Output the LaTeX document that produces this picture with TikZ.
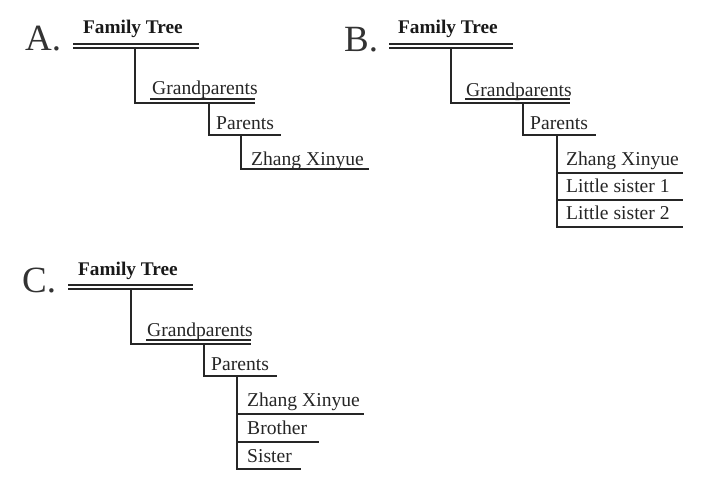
\documentclass[tikz,border=0pt]{standalone}
\usepackage{fontspec}
\setmainfont{Liberation Serif}
\begin{document}
\begin{tikzpicture}[x=1pt,y=-1pt,
  ln/.style={draw=black!85,line width=1.3pt},
  txt/.style={anchor=base west,inner sep=0pt,text=black!85,font=\fontsize{19.6}{22}\selectfont},
  ttl/.style={anchor=base west,inner sep=0pt,text=black!90,font=\fontsize{19.3}{22}\selectfont\bfseries},
  lbl/.style={anchor=base west,inner sep=0pt,text=black!80,font=\fontsize{37}{40}\selectfont}]
\useasboundingbox[fill=white] (0,0) rectangle (704,487);
% ---------- A ----------
\node[lbl] (lA) at (25,51) {A.};
\node[ttl] (tA) at (83,34) {Family Tree};
\coordinate (a1) at (73,44); \coordinate (a2) at (199,44);
\coordinate (a3) at (73,48); \coordinate (a4) at (199,48);
\draw[ln] (a1) -- (a2); \draw[ln] (a3) -- (a4);
\coordinate (a5) at (135,48); \coordinate (a6) at (135,103); \coordinate (a7) at (255,103);
\coordinate (a8) at (150,99); \coordinate (a9) at (255,99);
\draw[ln] (a5) -- (a6) -- (a7); \draw[ln] (a8) -- (a9);
\node[txt] (gA) at (152,95) {Grandparents};
\coordinate (a10) at (209,103); \coordinate (a11) at (209,135); \coordinate (a12) at (281,135);
\draw[ln] (a10) -- (a11) -- (a12);
\node[txt] (pA) at (216,129) {Parents};
\coordinate (a13) at (241,135); \coordinate (a14) at (241,169); \coordinate (a15) at (369,169);
\draw[ln] (a13) -- (a14) -- (a15);
\node[txt] (zA) at (251,165) {Zhang Xinyue};
% ---------- B ----------
\node[lbl] (lB) at (344,52) {B.};
\node[ttl] (tB) at (398,34) {Family Tree};
\coordinate (b1) at (389,44); \coordinate (b2) at (513,44);
\coordinate (b3) at (389,48); \coordinate (b4) at (513,48);
\draw[ln] (b1) -- (b2); \draw[ln] (b3) -- (b4);
\coordinate (b5) at (451,48); \coordinate (b6) at (451,103); \coordinate (b7) at (570,103);
\coordinate (b8) at (465,99); \coordinate (b9) at (570,99);
\draw[ln] (b5) -- (b6) -- (b7); \draw[ln] (b8) -- (b9);
\node[txt] (gB) at (466,96) {Grandparents};
\coordinate (b10) at (523,103); \coordinate (b11) at (523,135); \coordinate (b12) at (596,135);
\draw[ln] (b10) -- (b11) -- (b12);
\node[txt] (pB) at (530,129) {Parents};
\coordinate (b13) at (557,135); \coordinate (b14) at (557,227);
\coordinate (b15) at (557,173); \coordinate (b16) at (683,173);
\coordinate (b17) at (557,200); \coordinate (b18) at (683,200);
\coordinate (b19) at (683,227);
\draw[ln] (b13) -- (b14) -- (b19);
\draw[ln] (b15) -- (b16); \draw[ln] (b17) -- (b18);
\node[txt] (zB) at (566,165) {Zhang Xinyue};
\node[txt] (s1B) at (566,192) {Little sister 1};
\node[txt] (s2B) at (566,219) {Little sister 2};
% ---------- C ----------
\node[lbl] (lC) at (22,292) {C.};
\node[ttl] (tC) at (78,275) {Family Tree};
\coordinate (c1) at (68,285); \coordinate (c2) at (193,285);
\coordinate (c3) at (68,289); \coordinate (c4) at (193,289);
\draw[ln] (c1) -- (c2); \draw[ln] (c3) -- (c4);
\coordinate (c5) at (131,289); \coordinate (c6) at (131,344); \coordinate (c7) at (251,344);
\coordinate (c8) at (146,340); \coordinate (c9) at (251,340);
\draw[ln] (c5) -- (c6) -- (c7); \draw[ln] (c8) -- (c9);
\node[txt] (gC) at (147,336) {Grandparents};
\coordinate (c10) at (204,344); \coordinate (c11) at (204,376); \coordinate (c12) at (277,376);
\draw[ln] (c10) -- (c11) -- (c12);
\node[txt] (pC) at (211,370) {Parents};
\coordinate (c13) at (237,376); \coordinate (c14) at (237,469); \coordinate (c15) at (301,469);
\coordinate (c16) at (237,414); \coordinate (c17) at (364,414);
\coordinate (c18) at (237,442); \coordinate (c19) at (319,442);
\draw[ln] (c13) -- (c14) -- (c15);
\draw[ln] (c16) -- (c17); \draw[ln] (c18) -- (c19);
\node[txt] (zC) at (247,406) {Zhang Xinyue};
\node[txt] (brC) at (247,434) {Brother};
\node[txt] (siC) at (247,462) {Sister};
\end{tikzpicture}
\end{document}
